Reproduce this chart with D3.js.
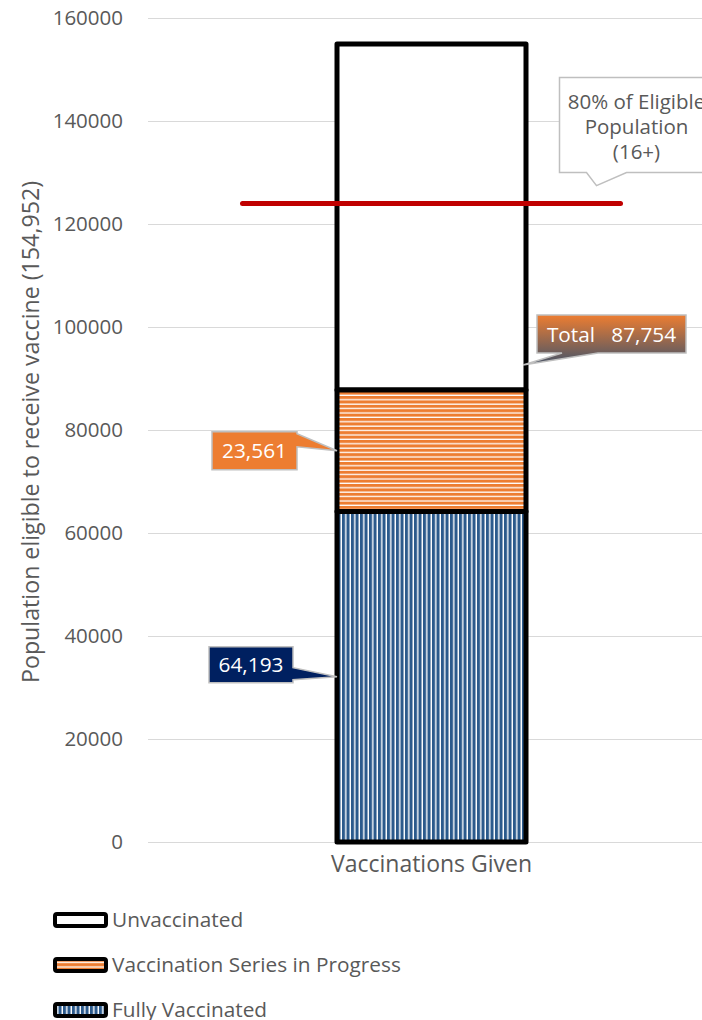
<!DOCTYPE html>
<html>
<head>
<meta charset="utf-8">
<script src="https://cdn.jsdelivr.net/npm/d3@7"></script>
<style>
  html, body { margin: 0; padding: 0; background: #fff; }
  svg { display: block; font-family: "Open Sans", sans-serif; overflow: hidden; }
</style>
</head>
<body>
<svg id="chart" width="702" height="1020"></svg>
<script>
// data
const categories = ["Vaccinations Given"];
const seriesKeys = ["full", "progress", "unvax"];
const seriesNames = ["Fully Vaccinated", "Vaccination Series in Progress", "Unvaccinated"];
const fullyVaccinated = [64193];
const seriesInProgress = [23561];
const unvaccinated = [67198];
const totalVaccinated = [87754];
const targetValue = [123962];
const yTickValues = [0, 20000, 40000, 60000, 80000, 100000, 120000, 140000, 160000];
const targetLabel = ["80% of Eligible", "Population", "(16+)"];
const yTitle = "Population eligible to receive vaccine (154,952)";

const orange = "#ED7D31";
const navy = "#002060";
const blueStripe = "#2B5A8C";
const textGray = "#595959";
const gridGray = "#D9D9D9";
const calloutBorder = "#BFBFBF";

const svg = d3.select("#chart");

const x = d3.scaleBand().domain(categories).range([148, 715]).paddingInner(0).paddingOuter(1);
const y = d3.scaleLinear().domain([0, 160000]).range([842, 18]);
const bw = x.bandwidth();

// patterns + gradient
const defs = svg.append("defs");
const hp = defs.append("pattern").attr("id", "hstripe")
  .attr("patternUnits", "userSpaceOnUse").attr("width", 8).attr("height", 4.4);
hp.append("rect").attr("width", 8).attr("height", 4.4).attr("fill", "#fff");
hp.append("rect").attr("width", 8).attr("height", 3.1).attr("fill", orange);

const vp = defs.append("pattern").attr("id", "vstripe")
  .attr("patternUnits", "userSpaceOnUse").attr("width", 4.5).attr("height", 8);
vp.append("rect").attr("width", 4.5).attr("height", 8).attr("fill", "#fff");
vp.append("rect").attr("width", 3.1).attr("height", 8).attr("fill", blueStripe);

const grad = defs.append("linearGradient").attr("id", "totalGrad")
  .attr("x1", 0).attr("y1", 0).attr("x2", 0).attr("y2", 1);
grad.append("stop").attr("offset", "0%").attr("stop-color", orange);
grad.append("stop").attr("offset", "100%").attr("stop-color", "#44546A");

// y axis with gridlines
const yAxis = svg.append("g")
  .attr("transform", "translate(148,0)")
  .call(d3.axisLeft(y).tickValues(yTickValues).tickSize(-567).tickPadding(25).tickFormat(d3.format("d")));
yAxis.select(".domain").remove();
yAxis.selectAll("line").attr("stroke", gridGray).attr("stroke-width", 1);
yAxis.selectAll("text")
  .attr("fill", textGray)
  .style("font-family", "'Open Sans', sans-serif")
  .style("font-size", "20.5px");

// x axis label
const xAxis = svg.append("g")
  .attr("transform", "translate(0,842)")
  .call(d3.axisBottom(x).tickSize(0).tickPadding(14));
xAxis.select(".domain").remove();
xAxis.selectAll("text")
  .attr("fill", textGray)
  .style("font-family", "'Open Sans', sans-serif")
  .style("font-size", "23px");

// y title
svg.append("text")
  .attr("transform", "translate(39,432) rotate(-90)")
  .attr("text-anchor", "middle")
  .attr("fill", textGray)
  .style("font-size", "23.2px")
  .text(yTitle);

// stacked bar
const table = categories.map((c, i) => ({
  category: c,
  full: fullyVaccinated[i],
  progress: seriesInProgress[i],
  unvax: unvaccinated[i],
}));
const stacked = d3.stack().keys(seriesKeys)(table);
const fills = { full: "url(#vstripe)", progress: "url(#hstripe)", unvax: "#fff" };

svg.append("g")
  .selectAll("g")
  .data(stacked.slice().reverse())
  .join("g")
  .selectAll("rect")
  .data((s) => s.map((d) => ({ key: s.key, d })))
  .join("rect")
  .attr("x", (o) => x(o.d.data.category))
  .attr("width", bw)
  .attr("y", (o) => y(o.d[1]))
  .attr("height", (o) => y(o.d[0]) - y(o.d[1]))
  .attr("fill", (o) => fills[o.key])
  .attr("stroke", "#000")
  .attr("stroke-width", 5)
  .attr("stroke-linejoin", "round");

// 80% target line
const lineX1 = x(categories[0]) - bw / 2;
const lineX2 = x(categories[0]) + bw * 1.5;
const lineY = y(targetValue[0]);
svg.append("line")
  .attr("x1", lineX1).attr("x2", lineX2)
  .attr("y1", lineY).attr("y2", lineY)
  .attr("stroke", "#C00000")
  .attr("stroke-width", 5)
  .attr("stroke-linecap", "round");

// callouts
const closed = (pts) => d3.line()(pts) + "Z";

function callout(pts, fill, stroke) {
  svg.append("path")
    .attr("d", closed(pts))
    .attr("fill", fill)
    .attr("stroke", stroke)
    .attr("stroke-width", 1.5)
    .attr("stroke-linejoin", "miter");
}

const fmt = d3.format(",");
const barLeft = x(categories[0]);
const barRight = barLeft + bw;

// fully vaccinated label
{
  const tip = [barLeft, y(fullyVaccinated[0] / 2)];
  const r = tip[0] - 44, l = r - 84, t = tip[1] - 30, b = tip[1] + 6;
  callout([[l, t], [r, t], [r, t + 21], tip, [r, t + 33], [r, b], [l, b]], navy, calloutBorder);
  svg.append("text").attr("x", (l + r) / 2).attr("y", (t + b) / 2).attr("dy", "0.36em")
    .attr("text-anchor", "middle").attr("fill", "#fff").style("font-size", "20.8px")
    .text(fmt(fullyVaccinated[0]));
}

// in progress label
{
  const tip = [barLeft, y(fullyVaccinated[0] + seriesInProgress[0] / 2)];
  const r = tip[0] - 40, l = r - 85, t = tip[1] - 19, b = tip[1] + 19;
  callout([[l, t], [r, t], [r, t + 2], tip, [r, t + 15], [r, b], [l, b]], orange, calloutBorder);
  svg.append("text").attr("x", (l + r) / 2).attr("y", (t + b) / 2).attr("dy", "0.36em")
    .attr("text-anchor", "middle").attr("fill", "#fff").style("font-size", "20.8px")
    .text(fmt(seriesInProgress[0]));
}

// total label
{
  const tip = [barRight - 3, y(totalVaccinated[0]) - 25];
  const l = tip[0] + 14, r = l + 149, t = tip[1] - 50, b = tip[1] - 12;
  callout([[l, t], [r, t], [r, b], [l + 61, b], tip, [l + 25, b], [l, b]], "url(#totalGrad)", calloutBorder);
  svg.append("text").attr("x", (l + r) / 2).attr("y", (t + b) / 2).attr("dy", "0.36em")
    .attr("text-anchor", "middle").attr("fill", "#fff").style("font-size", "20.8px")
    .style("white-space", "pre")
    .text("Total   " + fmt(totalVaccinated[0]));
}

// target label
{
  const tip = [lineX2 - 24, lineY - 18];
  const l = tip[0] - 37, r = l + 154, t = tip[1] - 108, b = tip[1] - 13;
  callout([[l, t], [r, t], [r, b], [tip[0] + 30, b], tip, [tip[0] - 10, b], [l, b]], "#fff", calloutBorder);
  svg.append("g")
    .selectAll("text")
    .data(targetLabel)
    .join("text")
    .attr("x", (l + r) / 2)
    .attr("y", (d, i) => t + 31 + i * 25)
    .attr("text-anchor", "middle")
    .attr("fill", textGray)
    .style("font-size", "20.5px")
    .text((d) => d);
}

// legend
const legendItems = [
  { name: seriesNames[2], fill: fills.unvax },
  { name: seriesNames[1], fill: fills.progress },
  { name: seriesNames[0], fill: fills.full },
];
const legend = svg.append("g")
  .selectAll("g")
  .data(legendItems)
  .join("g")
  .attr("transform", (d, i) => `translate(0,${927 + i * 45})`);
legend.append("rect")
  .attr("x", 55).attr("y", -13)
  .attr("width", 51).attr("height", 12)
  .attr("rx", 2)
  .attr("fill", (d) => d.fill)
  .attr("stroke", "#000")
  .attr("stroke-width", 4);
legend.append("text")
  .attr("x", 112)
  .attr("fill", textGray)
  .style("font-size", "20.8px")
  .text((d) => d.name);
</script>
</body>
</html>
